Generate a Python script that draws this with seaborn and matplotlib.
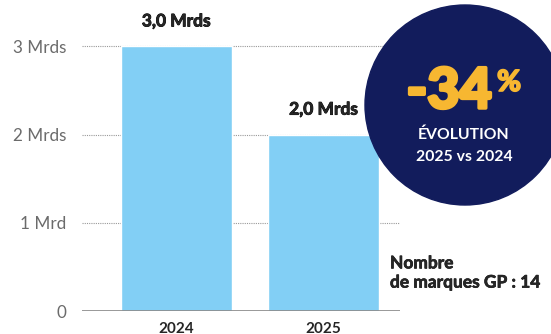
import matplotlib
matplotlib.use('Agg')
import matplotlib.pyplot as plt
import matplotlib.patheffects as pe
import seaborn as sns
import pandas as pd
from matplotlib.patches import Circle

# data
years = ['2024', '2025']
values = [3.0, 2.0]
bar_labels = ['3,0 Mrds', '2,0 Mrds']
yticks = [0, 1, 2, 3]
ytick_labels = ['0', '1 Mrd', '2 Mrds', '3 Mrds']
evolution = '-34'
note = 'Nombre\nde marques GP : 14'

sns.set_style('white')
plt.rcParams['font.family'] = ['Lato', 'DejaVu Sans']

df = pd.DataFrame({'year': years, 'value': values})

fig = plt.figure(figsize=(5.51, 3.34), dpi=100)
ax = fig.add_axes([82/551, 1-311/334, (400-82)/551, 291/334])

sns.barplot(data=df, x='year', y='value', color='#82cff5', width=0.755,
            saturation=1, ax=ax, zorder=3)
ax.set_xlim(-0.64, 1.52)
ax.set_ylim(0, 3.3)

# gridlines
for t in yticks[1:]:
    ax.axhline(t, color='#999999', lw=0.8, ls=(0, (1, 1)), zorder=1)
ax.axhline(0, color='#888888', lw=1.2, zorder=4)

for s in ax.spines.values():
    s.set_visible(False)
ax.set_yticks(yticks)
ax.set_yticklabels(ytick_labels, color='#6b6b6b', fontsize=12.3)
ax.tick_params(axis='y', length=0, pad=11)
ax.tick_params(axis='x', length=0, pad=8)
for lab in ax.get_xticklabels():
    lab.set_fontweight('bold')
    lab.set_fontsize(11)
ax.set_xlabel('')
ax.set_ylabel('')

bold = [pe.withStroke(linewidth=0.6, foreground='black')]
for i, (v, lab) in enumerate(zip(values, bar_labels)):
    ax.annotate(lab, (i, v), xytext=(0, 18), textcoords='offset points',
                ha='center', va='center', fontsize=12.5, fontweight='bold',
                path_effects=bold)

# evolution circle
circ = Circle((465/100, (334-105)/100), 100/100,
              transform=fig.dpi_scale_trans, color='#121c5c', zorder=5)
fig.patches.append(circ)

yel = [pe.withStroke(linewidth=2.5, foreground='#f7b731')]
fig.text(449/551, 1-92/334, evolution, color='#f7b731', fontsize=40,
         fontweight='black', ha='center', va='center', zorder=6,
         path_effects=yel)
fig.text(497/551, 1-83/334, '%', color='#f7b731', fontsize=21,
         fontweight='black', ha='left', va='center', zorder=6,
         path_effects=[pe.withStroke(linewidth=1.2, foreground='#f7b731')])
fig.text(464/551, 1-135/334, 'ÉVOLUTION', color='white', fontsize=11.3,
         fontweight='bold', ha='center', va='center', zorder=6)
fig.text(464/551, 1-157/334, '2025 vs 2024', color='white', fontsize=11.3,
         fontweight='bold', ha='center', va='center', zorder=6)

fig.text(390/551, 1-273/334, note, fontsize=12.5, fontweight='bold',
         ha='left', va='center', linespacing=1.25,
         path_effects=[pe.withStroke(linewidth=0.4, foreground='black')])

fig.savefig('out.png', dpi=100)
